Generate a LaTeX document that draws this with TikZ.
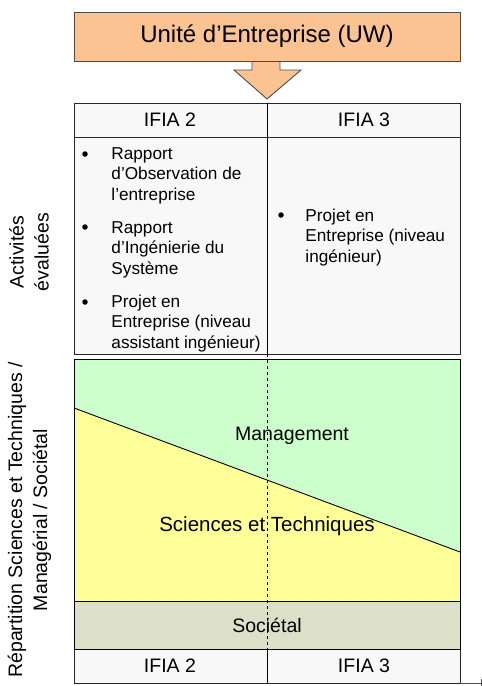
\documentclass[tikz,border=0pt]{standalone}
\usepackage{fontspec}
\setmainfont{Liberation Sans}
\definecolor{uwOrange}{RGB}{250,195,145}
\definecolor{mgtGreen}{RGB}{204,255,204}
\definecolor{stYellow}{RGB}{255,255,153}
\definecolor{socGrey}{RGB}{221,224,201}
\definecolor{cellGrey}{RGB}{248,248,248}
\tikzset{
  txt/.style={font=\fontsize{19.5}{20.5}\selectfont, inner sep=0pt},
  item/.style={font=\fontsize{17.2}{20.5}\selectfont, inner sep=0pt, anchor=base west, align=left},
  cell/.style={draw=black!85, fill=cellGrey},
  dot/.style={circle, fill=black, inner sep=0pt, minimum size=5.5pt},
}
\begin{document}
\begin{tikzpicture}[x=1pt,y=-1pt,line width=0.9pt]
            \useasboundingbox (0,0) rectangle (482,686);
            % arrow and title
            \draw[draw=black!70,fill=uwOrange] (252,55) -- (252,70) -- (234,70) -- (267,99) -- (301,70) -- (280,70) -- (280,55) -- cycle;
            \node[draw=black!70,fill=uwOrange,minimum width=386pt,minimum height=49pt,font=\fontsize{24}{26}\selectfont] (uw) at (267,36.5) {Unité d’Entreprise (UW)};
            % table rows
            \foreach \ya/\yb in {103/137,137/354,649/683}
                \draw[cell] (74,\ya) rectangle (460,\yb);
            \draw (267,103) -- (267,354) (267,649) -- (267,683);
            % repartition
            \fill[mgtGreen] (74,359) -- (460,359) -- (460,552) -- (74,408) -- cycle;
            \fill[stYellow] (74,408) -- (460,552) -- (460,601) -- (74,601) -- cycle;
            \draw[fill=socGrey] (74,601) rectangle (460,649);
            \draw (74,359) rectangle (460,601);
            \draw (74,408) -- (460,552);
            \draw[dashed,line width=0.6pt] (267,354) -- (267,649);
            \foreach \x/\n in {170/2,364/3} {
                \node[txt] (top\n) at (\x,120) {IFIA \n};
                \node[txt] (bot\n) at (\x,666) {IFIA \n};
            }
            \node[txt] (mgt) at (292,436) {Management};
            \node[txt,font=\fontsize{20.5}{22}\selectfont] (st) at (267,526) {Sciences et Techniques};
            \node[txt] (soc) at (267,625) {Sociétal};
            % activities (base = last line)
            \node[dot] (d1) at (85,154) {};
            \node[dot] (d2) at (85,227) {};
            \node[dot] (d3) at (85,302) {};
            \node[dot] (d4) at (281,215) {};
            \node[item] (a1) at (111,200) {Rapport\\d’Observation de\\l’entreprise};
            \node[item] (a2) at (111,274) {Rapport\\d’Ingénierie du\\Système};
            \node[item] (a3) at (111,348) {Projet en\\Entreprise (niveau\\assistant ingénieur)};
            \node[item] (a4) at (305,262) {Projet en\\Entreprise (niveau\\ingénieur)};
            % side labels
            \node[txt,rotate=90,align=center,font=\fontsize{19.5}{25}\selectfont] (act) at (29,252) {Activités\\évaluées};
            \node[txt,rotate=90,align=center,font=\fontsize{19.5}{25}\selectfont] (rep) at (29.5,520) {Répartition Sciences et Techniques /\\Managérial / Sociétal};
            % corner mark
            \coordinate (c1) at (460,683);
            \coordinate (c2) at (481,683);
            \draw[black!70,line width=0.6pt] (c1) -- (c2) ++(0,-4) -- ++(0,8);
\end{tikzpicture}
\end{document}
